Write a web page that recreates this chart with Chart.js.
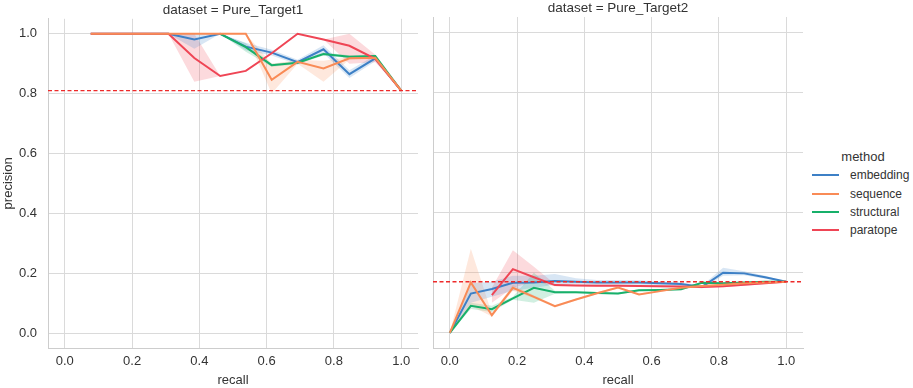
<!DOCTYPE html>
<html>
<head>
<meta charset="utf-8">
<script src="https://cdn.jsdelivr.net/npm/chart.js@4.4.1/dist/chart.umd.min.js"></script>
<style>
  body { margin: 0; background: #fff; width: 913px; height: 388px; position: relative; overflow: hidden;
         font-family: "Liberation Sans", Arial, sans-serif; color: #333; }
  canvas { position: absolute; top: 0; }
  #left { left: 0; }
  #right { left: 420px; }
  #legend { position: absolute; left: 812px; top: 148px; width: 100px; }
  #legend .title { font-size: 13px; line-height: 18px; text-align: center; padding-left: 2px; }
  #legend .row { display: flex; align-items: center; height: 18.4px; font-size: 12px; }
  #legend .swatch { width: 27px; height: 2px; margin-right: 11px; }
</style>
</head>
<body>
<canvas id="left" width="420" height="388"></canvas>
<canvas id="right" width="390" height="388"></canvas>
<div id="legend"><div class="title">method</div></div>
<script>
// ---- data ----
const methods = ['embedding', 'sequence', 'structural', 'paratope'];
const colors = ['#3d80c6', '#f98b56', '#17b06a', '#ef4555'];
const baselines = [0.81, 0.17];
const tickLabels = ['0.0', '0.2', '0.4', '0.6', '0.8', '1.0'];

// Pure_Target1
const recallT1 = [0.077, 0.154, 0.231, 0.308, 0.385, 0.462, 0.538, 0.615, 0.692, 0.769, 0.846, 0.923, 1.0];
const embT1   = [1, 1, 1, 1, 0.981, 1.0, 0.957, 0.937, 0.905, 0.948, 0.865, 0.918, 0.81];
const embT1Lo = [1, 1, 1, 1, 0.95, 1.0, 0.945, 0.927, 0.897, 0.935, 0.852, 0.908, 0.81];
const embT1Hi = [1, 1, 1, 1, 1.0, 1.0, 0.97, 0.947, 0.913, 0.962, 0.878, 0.928, 0.81];
const seqT1   = [1, 1, 1, 1, 1, 1, 1, 0.846, 0.906, 0.884, 0.918, 0.92, 0.81];
const seqT1Lo = [1, 1, 1, 1, 1, 1, 1, 0.80, 0.90, 0.84, 0.914, 0.915, 0.81];
const seqT1Hi = [1, 1, 1, 1, 1, 1, 1, 0.90, 0.912, 0.91, 0.922, 0.925, 0.81];
const strT1   = [null, null, null, null, null, 1.0, 0.955, 0.895, 0.903, 0.932, 0.923, 0.926, 0.81];
const strT1Lo = [null, null, null, null, null, 1.0, 0.94, 0.89, 0.898, 0.927, 0.918, 0.92, 0.81];
const strT1Hi = [null, null, null, null, null, 1.0, 0.968, 0.90, 0.908, 0.937, 0.928, 0.93, 0.81];
const parT1   = [1, 1, 1, 1, 0.919, 0.859, 0.876, 0.935, 1.0, 0.981, 0.96, 0.916, 0.81];
const parT1Lo = [1, 1, 1, 1, 0.84, 0.859, 0.876, 0.935, 1.0, 0.981, 0.90, 0.905, 0.81];
const parT1Hi = [1, 1, 1, 1, 1.0, 0.859, 0.876, 0.935, 1.0, 0.981, 1.0, 0.93, 0.81];

// Pure_Target2
const recallT2 = [0, 0.0625, 0.125, 0.1875, 0.25, 0.3125, 0.375, 0.4375, 0.5, 0.5625, 0.625, 0.6875, 0.75, 0.8125, 0.875, 0.9375, 1.0];
const embT2   = [0, 0.131, 0.146, 0.167, 0.168, 0.173, 0.17, 0.168, 0.168, 0.168, 0.165, 0.163, 0.153, 0.2, 0.198, 0.185, 0.17];
const embT2Lo = [0, 0.10, 0.12, 0.14, 0.15, 0.16, 0.162, 0.16, 0.16, 0.16, 0.158, 0.157, 0.148, 0.19, 0.192, 0.18, 0.17];
const embT2Hi = [0, 0.165, 0.17, 0.19, 0.19, 0.196, 0.182, 0.176, 0.176, 0.175, 0.171, 0.168, 0.158, 0.217, 0.205, 0.19, 0.17];
const seqT2   = [0, 0.168, 0.059, 0.15, 0.12, 0.089, 0.111, 0.132, 0.151, 0.128, 0.139, 0.15, 0.156, 0.16, 0.165, 0.168, 0.17];
const seqT2Lo = [0, 0.09, 0.055, 0.14, 0.115, 0.085, 0.108, 0.129, 0.148, 0.125, 0.136, 0.147, 0.153, 0.158, 0.163, 0.166, 0.17];
const seqT2Hi = [0, 0.28, 0.065, 0.16, 0.125, 0.093, 0.114, 0.135, 0.154, 0.131, 0.142, 0.153, 0.159, 0.162, 0.167, 0.17, 0.17];
const strT2   = [0, 0.09, 0.079, 0.115, 0.15, 0.135, 0.135, 0.133, 0.131, 0.142, 0.143, 0.145, 0.167, 0.165, 0.168, 0.17, 0.17];
const strT2Lo = [0, 0.08, 0.07, 0.11, 0.10, 0.13, 0.132, 0.13, 0.128, 0.139, 0.14, 0.142, 0.164, 0.163, 0.166, 0.168, 0.17];
const strT2Hi = [0, 0.10, 0.09, 0.12, 0.20, 0.14, 0.138, 0.136, 0.134, 0.145, 0.146, 0.148, 0.17, 0.167, 0.17, 0.172, 0.17];
const parT2   = [null, null, 0.126, 0.212, 0.185, 0.159, 0.158, 0.157, 0.157, 0.156, 0.155, 0.154, 0.153, 0.155, 0.16, 0.165, 0.17];
const parT2Lo = [null, null, 0.10, 0.15, 0.17, 0.155, 0.155, 0.154, 0.154, 0.153, 0.152, 0.151, 0.15, 0.152, 0.157, 0.163, 0.17];
const parT2Hi = [null, null, 0.15, 0.275, 0.22, 0.163, 0.161, 0.16, 0.16, 0.159, 0.158, 0.157, 0.156, 0.158, 0.163, 0.167, 0.17];

const xMin = -0.05, xMax = 1.05;

Chart.defaults.font.family = '"Liberation Sans", Arial, sans-serif';
Chart.defaults.color = '#333';

function pts(xs, ys) {
    return xs.map((x, i) => ({ x: x, y: ys[i] }));
}

function fade(hex) {
    const n = parseInt(hex.slice(1), 16);
    return 'rgba(' + (n >> 16) + ',' + ((n >> 8) & 255) + ',' + (n & 255) + ',0.2)';
}

// draw order: sequence on top, then paratope, structural, embedding
const lineOrder = [4, 1, 3, 2];

function buildDatasets(xs, series, baseline) {
    const sets = [];
    sets.push({
        data: [{ x: xMin, y: baseline }, { x: xMax, y: baseline }],
        borderColor: '#ee2a2a', borderWidth: 1.4, borderDash: [4, 2.5],
        pointRadius: 0, fill: false, order: 0
    });
    series.forEach((s, k) => {
        sets.push({
            data: pts(xs, s.hi), borderColor: 'rgba(0,0,0,0)', borderWidth: 0,
            backgroundColor: fade(colors[k]), pointRadius: 0, fill: '+1', order: 10
        });
        sets.push({
            data: pts(xs, s.lo), borderColor: 'rgba(0,0,0,0)', borderWidth: 0,
            pointRadius: 0, fill: false, order: 10
        });
    });
    series.forEach((s, k) => {
        sets.push({
            data: pts(xs, s.vals), borderColor: colors[k], borderWidth: 2,
            pointRadius: 0, fill: false, order: lineOrder[k]
        });
    });
    return sets;
}

function axes(showY) {
    return {
        x: {
            type: 'linear', min: xMin, max: xMax,
            ticks: {
                stepSize: 0.2, includeBounds: false, padding: 6, font: { size: 13 }, color: '#333',
                maxRotation: 0, callback: (v) => tickLabels[Math.round(v * 5)]
            },
            grid: { color: '#dadada', drawTicks: false },
            border: { color: '#cdcdcd' },
            title: { display: true, text: 'recall', font: { size: 13 }, color: '#333', padding: { top: 1, bottom: 0 } },
            afterFit: (s) => { s.height = 40; }
        },
        y: {
            type: 'linear', min: -0.05, max: 1.05,
            ticks: {
                display: showY, stepSize: 0.2, includeBounds: false, padding: 11, font: { size: 13 }, color: '#333',
                callback: (v) => tickLabels[Math.round(v * 5)]
            },
            grid: { color: '#dadada', drawTicks: false },
            border: { color: '#cdcdcd' },
            title: { display: showY, text: 'precision', font: { size: 13 }, color: '#333', padding: { top: 1, bottom: 0 } },
            afterFit: (s) => { s.width = showY ? 48 : 13; }
        }
    };
}

function makeChart(id, title, xs, series, baseline, showY, padRight) {
    new Chart(document.getElementById(id).getContext('2d'), {
        type: 'line',
        data: { datasets: buildDatasets(xs, series, baseline) },
        options: {
            responsive: false,
            animation: false,
            layout: { padding: { left: 0, right: padRight, top: 0, bottom: 0 } },
            elements: { line: { tension: 0 } },
            plugins: {
                legend: { display: false },
                tooltip: { enabled: false },
                title: {
                    display: true, text: title, fullSize: false, color: '#333',
                    font: { size: 13.5, weight: 'normal' }, padding: { top: 0.6, bottom: 0.2 }
                }
            },
            scales: axes(showY)
        }
    });
}

makeChart('left', 'dataset = Pure_Target1', recallT1, [
    { vals: embT1, lo: embT1Lo, hi: embT1Hi },
    { vals: seqT1, lo: seqT1Lo, hi: seqT1Hi },
    { vals: strT1, lo: strT1Lo, hi: strT1Hi },
    { vals: parT1, lo: parT1Lo, hi: parT1Hi }
], baselines[0], true, 2);

makeChart('right', 'dataset = Pure_Target2', recallT2, [
    { vals: embT2, lo: embT2Lo, hi: embT2Hi },
    { vals: seqT2, lo: seqT2Lo, hi: seqT2Hi },
    { vals: strT2, lo: strT2Lo, hi: strT2Hi },
    { vals: parT2, lo: parT2Lo, hi: parT2Hi }
], baselines[1], false, 7);

// legend
const legend = document.getElementById('legend');
methods.forEach((m, k) => {
    const row = document.createElement('div');
    row.className = 'row';
    const sw = document.createElement('div');
    sw.className = 'swatch';
    sw.style.background = colors[k];
    const label = document.createElement('span');
    label.textContent = m;
    row.appendChild(sw);
    row.appendChild(label);
    legend.appendChild(row);
});
</script>
</body>
</html>
